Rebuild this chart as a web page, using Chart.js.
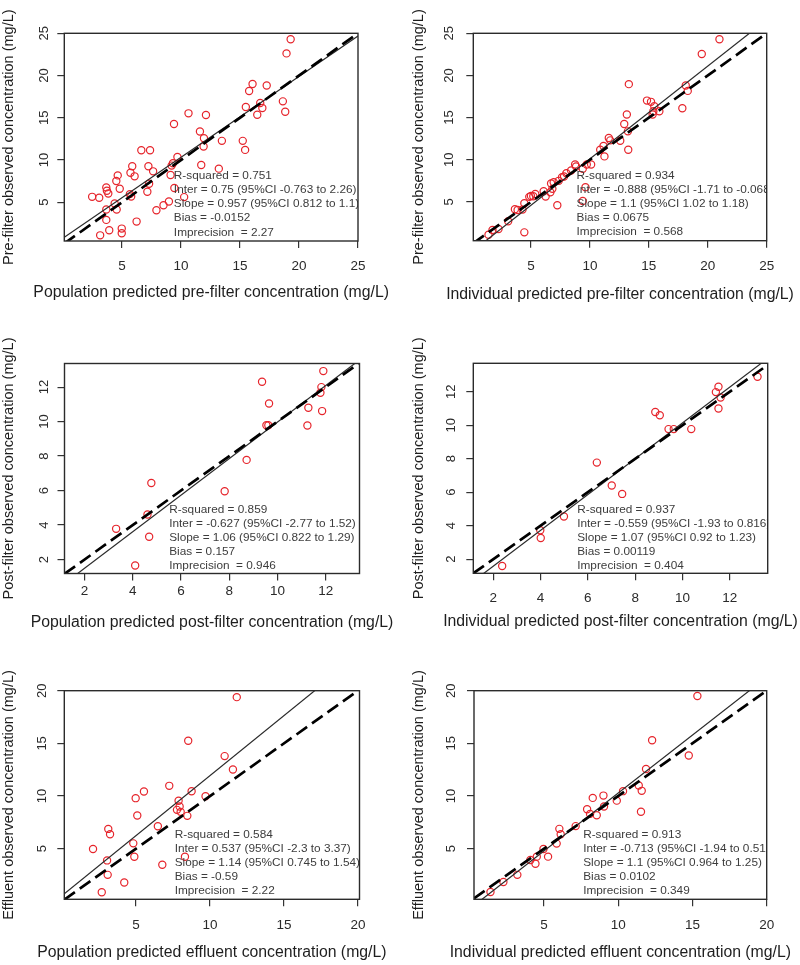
<!DOCTYPE html>
<html>
<head>
<meta charset="utf-8">
<script src="https://cdn.jsdelivr.net/npm/chart.js@4.4.1/dist/chart.umd.min.js"></script>
<style>
  html, body { margin: 0; padding: 0; background: #ffffff; }
  body { width: 800px; height: 965px; position: relative; overflow: hidden; }
  .panel { position: absolute; width: 400px; }
  canvas { display: block; }
</style>
</head>
<body>
<div class="panel" style="left:0;top:0;height:320px"><canvas id="c0" width="400" height="320"></canvas></div>
<div class="panel" style="left:400px;top:0;height:320px"><canvas id="c1" width="400" height="320"></canvas></div>
<div class="panel" style="left:0;top:320px;height:320px"><canvas id="c2" width="400" height="320"></canvas></div>
<div class="panel" style="left:400px;top:320px;height:320px"><canvas id="c3" width="400" height="320"></canvas></div>
<div class="panel" style="left:0;top:640px;height:325px"><canvas id="c4" width="400" height="325"></canvas></div>
<div class="panel" style="left:400px;top:640px;height:325px"><canvas id="c5" width="400" height="325"></canvas></div>
<script>
// ---------------- DATA ----------------
const xTitles = [
  "Population predicted pre-filter concentration (mg/L)",
  "Individual predicted pre-filter concentration (mg/L)",
  "Population predicted post-filter concentration (mg/L)",
  "Individual predicted post-filter concentration (mg/L)",
  "Population predicted effluent concentration (mg/L)",
  "Individual predicted effluent concentration (mg/L)"
];
const yTitles = [
  "Pre-filter observed concentration (mg/L)",
  "Pre-filter observed concentration (mg/L)",
  "Post-filter observed concentration (mg/L)",
  "Post-filter observed concentration (mg/L)",
  "Effluent observed concentration (mg/L)",
  "Effluent observed concentration (mg/L)"
];
const ticksPre = [5, 10, 15, 20, 25];
const ticksPost = [2, 4, 6, 8, 10, 12];
const ticksEff = [5, 10, 15, 20];

// axis limits [xmin, xmax, ymin, ymax]
const axisLimits = [
  [0.1, 25, 0.4, 25],
  [0.1, 25, 0.4, 25],
  [1.17, 13.4, 1.19, 13.37],
  [1.16, 13.6, 1.16, 13.7],
  [0.16, 20.1, 0.2, 20],
  [0.28, 20, 0.19, 20]
];

// Pre-filter, population predicted vs observed
const predPrePop = [19.29,18.94,16.06,17.26,15.77,15.49,16.71,16.89,18.63,16.46,18.83,10.63,12.11,9.4,11.6,11.94,13.46,15.23,11.91,15.43,6.63,7.37,9.69,11.71,13.2,5.86,7.23,9.31,9.2,5.71,6.06,4.63,7.63,9.11,4.51,7.29,4.8,3.66,3.71,3.83,7.14,9.43,2.46,3.06,5.66,5.77,10.26,4.37,4.54,3.66,8.51,8.97,7.91,3.66,6.23,3.91,4.97,4.97,3.14];
const obsPrePop  = [24.29,22.62,19.0,18.81,18.17,16.27,16.75,16.15,16.94,15.36,15.71,15.52,15.32,14.25,13.37,12.58,12.26,12.26,11.59,11.19,11.15,11.15,10.36,9.4,8.97,9.25,9.25,9.6,9.33,8.49,8.06,8.17,8.65,8.21,7.5,7.18,6.59,6.75,6.35,6.03,6.23,6.67,5.63,5.52,5.95,5.67,5.6,4.84,4.13,4.13,4.64,5.08,4.05,2.9,2.7,1.67,1.87,1.31,1.07];
// Pre-filter, individual predicted vs observed
const predPreInd = [20.99,19.49,13.3,18.13,18.3,17.84,14.84,15.18,15.46,15.38,15.89,15.32,13.13,12.91,13.22,11.6,11.72,12.57,11.15,13.25,10.87,11.23,10.1,8.74,8.82,9.39,9.73,8.4,8.0,7.8,7.35,6.7,6.81,6.64,6.07,6.24,5.36,4.99,4.85,5.19,9.62,9.39,7.23,3.63,3.86,4.28,4.43,3.06,2.24,1.73,1.39,4.43,7.63,6.92];
const obsPreInd  = [24.29,22.54,18.97,18.81,18.17,16.11,17.02,16.87,16.35,15.75,15.75,15.36,15.36,14.25,13.37,12.58,12.3,12.26,11.63,11.19,11.19,10.4,9.44,9.44,9.21,8.93,9.44,8.73,8.41,8.02,7.5,7.18,6.55,6.15,6.27,5.63,5.95,5.71,5.6,5.67,6.75,5.12,4.6,4.13,4.05,4.09,4.84,2.7,1.79,1.67,1.11,1.39,7.94,7.34];
// Post-filter
const predPostPop = [11.9,11.82,11.78,9.36,9.65,11.28,11.85,9.54,9.62,11.24,8.72,7.81,4.77,4.61,4.68,3.31,4.1];
const obsPostPop  = [12.93,12.0,11.67,12.31,11.05,10.8,10.61,9.79,9.79,9.77,7.78,5.96,6.44,4.61,3.32,3.78,1.65];
const predPostInd = [13.17,11.52,11.41,11.61,11.52,8.85,9.04,9.41,9.63,10.37,6.38,7.01,7.45,4.99,3.99,4.01,2.38];
const obsPostInd  = [12.9,12.3,11.98,11.66,11.0,10.79,10.6,9.77,9.77,9.77,7.77,6.4,5.9,4.55,3.73,3.27,1.6];
// Effluent
const predEffPop = [11.81,8.53,10.99,11.55,7.25,5.54,8.76,4.98,9.7,7.88,7.95,7.77,8.02,8.47,5.09,6.48,3.13,3.25,2.1,4.82,4.89,3.05,6.78,8.31,3.09,4.21,2.69];
const obsEffPop  = [19.39,15.25,13.79,12.52,10.97,10.43,10.46,9.8,9.99,9.55,9.01,8.69,8.5,8.12,8.15,7.13,6.88,6.37,4.97,5.51,4.24,3.89,3.48,4.24,2.52,1.79,0.87];
const predEffInd = [15.33,12.28,14.75,11.87,11.38,11.58,10.32,8.28,9.0,9.9,9.04,7.9,8.1,8.55,11.53,7.13,6.03,6.12,5.85,4.96,5.27,4.51,4.08,4.42,3.2,2.26,1.39];
const obsEffInd  = [19.49,15.3,13.84,12.56,11.0,10.49,10.46,9.82,10.04,9.56,9.0,8.74,8.3,8.17,8.51,7.14,6.88,6.37,5.48,4.96,4.24,4.24,3.92,3.57,2.51,1.84,0.88];

// Regression statistics (as printed)
const rSquared    = ["0.751", "0.934", "0.859", "0.937", "0.584", "0.913"];
const intercepts  = ["0.75", "-0.888", "-0.627", "-0.559", "0.537", "-0.713"];
const interLo     = ["-0.763", "-1.71", "-2.77", "-1.93", "-2.3", "-1.94"];
const interHi     = ["2.26", "-0.068", "1.52", "0.816", "3.37", "0.515"];
const slopes      = ["0.957", "1.1", "1.06", "1.07", "1.14", "1.1"];
const slopeLo     = ["0.812", "1.02", "0.822", "0.92", "0.745", "0.964"];
const slopeHi     = ["1.1", "1.18", "1.29", "1.23", "1.54", "1.25"];
const biasVals    = ["-0.0152", "0.0675", "0.157", "0.00119", "-0.59", "0.0102"];
const imprecision = ["2.27", "0.568", "0.946", "0.404", "2.22", "0.349"];

// ---------------- LAYOUT (pixels) ----------------
const FONT = '"Liberation Sans", Arial, Helvetica, sans-serif';
Chart.defaults.font.family = FONT;

const layouts = [
  {H:320, L:64.3, T:33.3, R:358,   B:241,   yt:0.3,  xy:293,   xp:10.5, yp:5.2, tx:0.373, ty:0.686},
  {H:320, L:73.3, T:33.3, R:366.7, B:240.7, yt:10.3, xy:295,   xp:10.5, yp:9.5, tx:0.352, ty:0.686},
  {H:320, L:64.5, T:43.5, R:359.5, B:253.5, yt:0.3,  xy:303,   xp:2.5,  yp:5.6, tx:0.355, ty:0.695},
  {H:320, L:73.3, T:43.3, R:367.7, B:253.3, yt:10.3, xy:301.7, xp:9.5,  yp:8.1, tx:0.353, ty:0.695},
  {H:325, L:64.3, T:50.7, R:359.5, B:259.3, yt:0.3,  xy:313,   xp:10.5, yp:7.7, tx:0.374, ty:0.689},
  {H:325, L:74,   T:50.7, R:366.7, B:259.3, yt:10.3, xy:313,   xp:10.5, yp:8.8, tx:0.373, ty:0.689}
];

const preds = [predPrePop, predPreInd, predPostPop, predPostInd, predEffPop, predEffInd];
const obss  = [obsPrePop, obsPreInd, obsPostPop, obsPostInd, obsEffPop, obsEffInd];
const tickSets = [ticksPre, ticksPre, ticksPost, ticksPost, ticksEff, ticksEff];

const annotPlugin = {
  id: 'annot',
  afterDatasetsDraw(chart, args, opts) {
    const {ctx, chartArea: a} = chart;
    const k = opts.k;
    const lines = [
      'R-squared = ' + rSquared[k],
      'Inter = ' + intercepts[k] + ' (95%CI ' + interLo[k] + ' to ' + interHi[k] + ')',
      'Slope = ' + slopes[k] + ' (95%CI ' + slopeLo[k] + ' to ' + slopeHi[k] + ')',
      'Bias = ' + biasVals[k],
      'Imprecision  = ' + imprecision[k]
    ];
    const lay = layouts[k];
    ctx.save();
    ctx.beginPath();
    ctx.rect(a.left, a.top, a.right - a.left, a.bottom - a.top);
    ctx.clip();
    ctx.font = '11.8px ' + FONT;
    ctx.fillStyle = '#3c3c3c';
    ctx.textAlign = 'left';
    ctx.textBaseline = 'middle';
    const x0 = a.left + lay.tx * (a.right - a.left);
    const y0 = a.top + lay.ty * (a.bottom - a.top);
    lines.forEach((t, i) => ctx.fillText(t, x0, y0 + i * 14.15));
    ctx.restore();
    ctx.save();
    ctx.strokeStyle = '#2b2b2b';
    ctx.lineWidth = 1.4;
    ctx.strokeRect(a.left, a.top, a.right - a.left, a.bottom - a.top);
    // x-axis title (drawn at natural width)
    ctx.font = '15.8px ' + FONT;
    ctx.fillStyle = '#1e1e1e';
    ctx.textAlign = 'center';
    ctx.textBaseline = 'middle';
    ctx.fillText(xTitles[k], (a.left + a.right) / 2, lay.xy);
    ctx.restore();
  }
};

for (let k = 0; k < 6; k++) {
  const lay = layouts[k];
  const lim = axisLimits[k];
  const ticks = tickSets[k];
  const b = parseFloat(intercepts[k]);
  const m = parseFloat(slopes[k]);
  const pts = preds[k].map((x, i) => ({x: x, y: obss[k][i]}));
  const idLine = [{x: lim[0], y: lim[0]}, {x: lim[1], y: lim[1]}];
  const regLine = [{x: lim[0], y: b + m * lim[0]}, {x: lim[1], y: b + m * lim[1]}];

  new Chart(document.getElementById('c' + k), {
    type: 'scatter',
    data: {
      datasets: [
        {data: idLine, showLine: true, borderColor: '#000', borderWidth: 2.7, borderDash: [13, 6], pointRadius: 0, clip: 0, fill: false},
        {data: regLine, showLine: true, borderColor: '#2a2a2a', borderWidth: 1.2, pointRadius: 0, clip: 0, fill: false},
        {data: pts, showLine: false, pointStyle: 'circle', pointRadius: 3.6, pointBorderWidth: 1.2,
         pointBorderColor: '#e6252c', pointBackgroundColor: 'rgba(0,0,0,0)', clip: 0}
      ]
    },
    options: {
      responsive: false,
      animation: false,
      events: [],
      layout: {padding: {left: 0, top: lay.T, right: 400 - lay.R, bottom: 0}},
      plugins: {legend: {display: false}, tooltip: {enabled: false}, annot: {k: k}},
      scales: {
        x: {
          type: 'linear', position: 'bottom', min: lim[0], max: lim[1],
          afterBuildTicks: s => { s.ticks = ticks.map(v => ({value: v})); },
          afterFit: s => { s.height = lay.H - lay.B; },
          grid: {display: true, drawOnChartArea: false, drawTicks: true, tickLength: 7, color: '#333', lineWidth: 1.2},
          border: {display: false},
          ticks: {color: '#2a2a2a', font: {size: 13.5}, padding: lay.xp, maxRotation: 0, minRotation: 0, autoSkip: false},
          title: {display: false, text: xTitles[k]}
        },
        y: {
          type: 'linear', position: 'left', min: lim[2], max: lim[3],
          afterBuildTicks: s => { s.ticks = ticks.map(v => ({value: v})); },
          afterFit: s => { s.width = lay.L; },
          grid: {display: true, drawOnChartArea: false, drawTicks: true, tickLength: 7, color: '#333', lineWidth: 1.2},
          border: {display: false},
          ticks: {color: '#2a2a2a', font: {size: 13}, padding: lay.yp, minRotation: 90, maxRotation: 90, crossAlign: 'center', autoSkip: false},
          title: {display: true, text: yTitles[k], color: '#1e1e1e', font: {size: 14.5}, padding: {top: lay.yt, bottom: 0}}
        }
      }
    },
    plugins: [annotPlugin]
  });
}
</script>
</body>
</html>
